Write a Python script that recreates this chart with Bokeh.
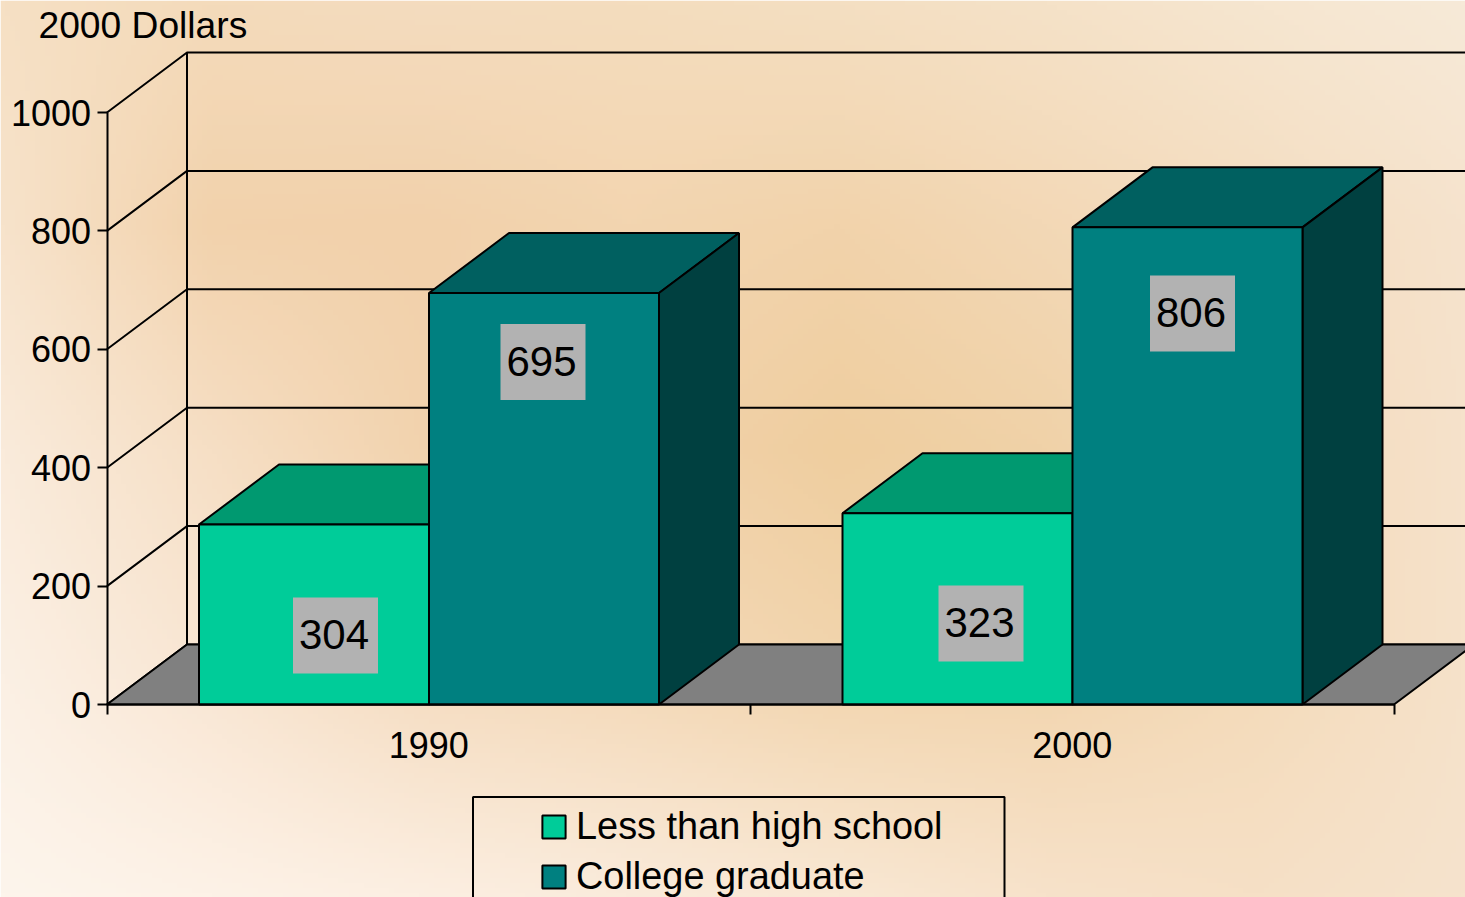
import numpy as np
from bokeh.core.properties import value
from bokeh.embed import file_html
from bokeh.models import (BoxAnnotation, ColumnDataSource, FixedTicker, Label, Legend,
                          LegendItem, LinearAxis)
from bokeh.plotting import figure
from bokeh.resources import INLINE

# ---- data
years = ["1990", "2000"]
less_than_hs = [304, 323]
college_grad = [695, 806]
y_ticks = [0, 200, 400, 600, 800, 1000]
y_title = "2000 Dollars"
series_names = ["Less than high school", "College graduate"]

# ---- layout (page pixels of the reference)
W, H = 1465, 897
OFFSET = 0
X0_PX, UNIT_PX = 106.5, 643.5      # category axis start, width of one category
Y0_PX, V_PX = 704.0, 0.592         # zero line, pixels per dollar
DX = 80 / UNIT_PX                  # 3-D depth in data units
DY = 60 / V_PX
GAP = 92 / UNIT_PX
BAR = 230 / UNIT_PX
FONT = "Liberation Sans"
LW = 2


def xd(px):
    return (px - X0_PX) / UNIT_PX


def yd(py):
    return (Y0_PX - py) / V_PX


x_start, x_end = xd(OFFSET), xd(OFFSET + W)
y_start, y_end = yd(OFFSET + H), yd(OFFSET)

p = figure(width=W, height=H, output_backend="svg", toolbar_location=None,
           x_range=(x_start, x_end), y_range=(y_start, y_end),
           min_border=0, x_axis_type=None, y_axis_type=None,
           outline_line_color=None, border_fill_color="#F5DDBE")
p.grid.visible = False

# ---- background wash (colour anchors only, no chart data)
anchors = [
    ["#F7EAD8", "#F6E6D0", "#F5E2C8", "#F4DFC2", "#F4DDBE", "#F4DCBF", "#F4DBBB", "#F6E0C4"],
    ["#F6E3CD", "#F4DDC0", "#F3D8B6", "#F2D3AB", "#F3D5B0", "#F2D1AB", "#F2D2AC", "#F7E3CB"],
    ["#F6E2CB", "#F3DABA", "#F0D2A8", "#EFCE9F", "#F2D2AC", "#F2D3AE", "#F6DFC5", "#FAEBDB"],
    ["#F6E2CA", "#F4DBBA", "#F2D5AE", "#F2D5AE", "#F4D9B8", "#F5DCC0", "#F9E6D3", "#FBF0E4"],
    ["#F6E3CD", "#F6E0C6", "#F7E2CA", "#F9E8D4", "#FAEBDB", "#FCEFE2", "#FDF2E7", "#FDF5EC"],
]
anchors = [row[::-1] for row in anchors]
rgb = np.array([[[int(c[i:i + 2], 16) for i in (1, 3, 5)] for c in row] for row in anchors], float)
ny, nx = 180, 290
gy = np.linspace(0, rgb.shape[0] - 1, ny)
gx = np.linspace(0, rgb.shape[1] - 1, nx)
iy = np.clip(gy.astype(int), 0, rgb.shape[0] - 2)
ix = np.clip(gx.astype(int), 0, rgb.shape[1] - 2)
fy = (gy - iy)[:, None, None]
fx = (gx - ix)[None, :, None]
img = (rgb[iy][:, ix] * (1 - fy) * (1 - fx) + rgb[iy + 1][:, ix] * fy * (1 - fx)
       + rgb[iy][:, ix + 1] * (1 - fy) * fx + rgb[iy + 1][:, ix + 1] * fy * fx)
img = img[::-1].astype(np.uint8)
rgba = np.dstack([img, np.full(img.shape[:2], 255, np.uint8)])
packed = rgba.view(np.uint32).reshape(ny, nx)
p.image_rgba(image=[packed], x=x_start, y=y_start, dw=x_end - x_start, dh=y_end - y_start)

# ---- walls, gridlines
cats = len(years)
p.multi_line(xs=[[0, DX, cats + DX * 3] for _ in y_ticks],
             ys=[[t, t + DY, t + DY] for t in y_ticks],
             line_color="black", line_width=LW)
p.line([DX, DX], [DY, y_ticks[-1] + DY], line_color="black", line_width=LW)
p.patch([0, DX, cats + DX, cats], [0, DY, DY, 0], fill_color="#808080",
        line_color="black", line_width=LW)


def box(values, lefts, front, top, side):
    rights = [l + BAR for l in lefts]
    p.patches([[l, l + DX, r + DX, r] for l, r in zip(lefts, rights)],
              [[v, v + DY, v + DY, v] for v in values],
              fill_color=top, line_color="black", line_width=LW)
    p.patches([[r, r + DX, r + DX, r] for r in rights],
              [[0, DY, v + DY, v] for v in values],
              fill_color=side, line_color="black", line_width=LW)
    src = ColumnDataSource(dict(x=[l + BAR / 2 for l in lefts], top=values))
    return p.vbar(x="x", top="top", bottom=0, width=BAR, source=src,
                  fill_color=front, line_color="black", line_width=LW)


lefts_a = [i + GAP for i in range(cats)]
lefts_b = [i + GAP + BAR for i in range(cats)]
r_a = box(less_than_hs, lefts_a, "#00CC99", "#009970", "#006B50")
r_b = box(college_grad, lefts_b, "#008080", "#006060", "#004040")

# ---- value labels (boxes sit where the original author dragged them)
label_px = [(335, 635), (980.5, 623), (542.5, 361.5), (1192, 313)]
label_vals = less_than_hs + college_grad
lx = [xd(a) for a, _ in label_px]
ly = [yd(b) for _, b in label_px]
p.rect(lx, ly, width=85, height=76, width_units="screen", height_units="screen",
       fill_color="#B2B2B2", line_color=None)
p.text(lx, ly, x_offset=-1.5, y_offset=-1, text=[str(v) for v in label_vals],
       text_align="center", text_baseline="middle",
       text_color="black", text_font=value(FONT), text_font_size="42px")

# ---- axes
yax = LinearAxis(fixed_location=0, bounds=(y_ticks[0], y_ticks[-1]),
                 ticker=FixedTicker(ticks=y_ticks),
                 major_tick_in=0, major_tick_out=10, minor_tick_out=0, minor_tick_in=0,
                 major_tick_line_color="black", major_tick_line_width=LW,
                 axis_line_color="black", axis_line_width=LW,
                 major_label_standoff=6, major_label_text_font=FONT,
                 major_label_text_font_size="36px", major_label_text_color="black")
p.add_layout(yax, "left")

centers = [i + 0.5 for i in range(cats)]
xax = LinearAxis(fixed_location=0, bounds=(0, cats),
                 ticker=FixedTicker(ticks=centers, minor_ticks=list(range(cats + 1))),
                 major_label_overrides={c: y for c, y in zip(centers, years)},
                 major_tick_in=0, major_tick_out=0, minor_tick_in=0, minor_tick_out=10,
                 minor_tick_line_color="black", minor_tick_line_width=LW,
                 axis_line_color="black", axis_line_width=LW,
                 major_label_standoff=17, major_label_text_font=FONT,
                 major_label_text_font_size="36px", major_label_text_color="black")
p.add_layout(xax, "below")

p.add_layout(Label(x=xd(38), y=yd(24), text=y_title, text_font=FONT, text_font_size="37.2px",
                   text_color="black", text_baseline="middle", text_align="left"))

# ---- legend
p.add_layout(BoxAnnotation(left=xd(472.5), right=xd(1004), top=yd(796.5), bottom=yd(940),
                           fill_alpha=0, line_color="black", line_alpha=1, line_width=LW))
legend = Legend(items=[LegendItem(label=series_names[0], renderers=[r_a]),
                       LegendItem(label=series_names[1], renderers=[r_b])],
                location=(539, -1), orientation="vertical", padding=0, margin=0,
                spacing=7, glyph_width=29, glyph_height=29, label_height=40,
                label_standoff=8, background_fill_alpha=0, border_line_alpha=0,
                label_text_font=FONT, label_text_font_size="37.9px", label_text_color="black")
p.add_layout(legend, "center")

open("out.html", "w").write(file_html(p, INLINE))
